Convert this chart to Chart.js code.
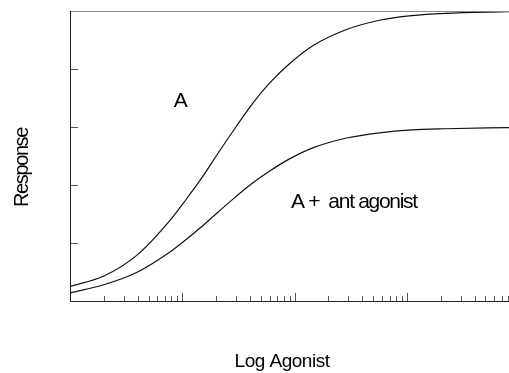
<!DOCTYPE html>
<html>
<head>
<meta charset="utf-8">
<script src="https://cdn.jsdelivr.net/npm/chart.js@4"></script>
<style>
  html, body { margin: 0; padding: 0; background: #fff; }
  canvas { display: block; }
</style>
</head>
<body>
<canvas id="chart" width="509" height="373"></canvas>
<script>
// agonist concentration (log axis, no labels in the original)
const doses = [1, 2, 4, 7.7, 10.8, 15, 21, 30, 42, 60, 90, 145, 290, 570, 1100, 2200, 8100];
// response, agonist alone
const agonist = [0.25, 0.43, 0.80, 1.38, 1.75, 2.13, 2.56, 3.00, 3.40, 3.76, 4.09, 4.40, 4.68, 4.84, 4.92, 4.96, 4.99];
// response, agonist + antagonist
const withAntagonist = [0.14, 0.28, 0.50, 0.84, 1.06, 1.29, 1.54, 1.80, 2.03, 2.24, 2.45, 2.64, 2.81, 2.90, 2.95, 2.97, 2.99];

const yTicks = [1, 2, 3, 4];
const xTitle = 'Log Agonist';
const yTitle = 'Response';
// curve labels, placed in data units
const curveLabels = [
  { text: 'A', x: 8.4, y: 3.35 },
  { text: 'A +  ant agonist', x: 93, y: 1.6 }
];

const FONT = '"Liberation Sans", Arial, sans-serif';

// axes drawn by hand so the ticks point inwards like the original
const frame = {
  id: 'frame',
  afterDraw(chart) {
    const ctx = chart.ctx;
    const a = chart.chartArea;
    const xs = chart.scales.x;
    const ys = chart.scales.y;
    ctx.save();

    // ticks on x (every 1..9 of each decade)
    ctx.strokeStyle = '#555';
    ctx.lineWidth = 1;
    ctx.beginPath();
    for (let dec = 1; dec <= xs.max; dec *= 10) {
      for (let m = 1; m <= 9; m++) {
        const v = dec * m;
        if (v <= xs.min || v > xs.max) continue;
        const px = Math.round(xs.getPixelForValue(v)) + 0.5;
        const len = m === 1 ? 8 : 5;
        ctx.moveTo(px, a.bottom);
        ctx.lineTo(px, a.bottom - len);
      }
    }
    // ticks on y
    yTicks.forEach(v => {
      const py = Math.round(ys.getPixelForValue(v)) + 0.5;
      ctx.moveTo(a.left, py);
      ctx.lineTo(a.left + 8, py);
    });
    ctx.stroke();

    // top line
    ctx.strokeStyle = '#888';
    ctx.beginPath();
    ctx.moveTo(a.left, a.top + 0.5);
    ctx.lineTo(a.right, a.top + 0.5);
    ctx.stroke();

    // axis lines
    ctx.strokeStyle = '#222';
    ctx.beginPath();
    ctx.moveTo(a.left + 0.5, a.top);
    ctx.lineTo(a.left + 0.5, a.bottom + 0.5);
    ctx.lineTo(a.right, a.bottom + 0.5);
    ctx.stroke();

    ctx.fillStyle = '#000';
    ctx.textBaseline = 'alphabetic';

    // curve labels
    ctx.font = '21px ' + FONT;
    ctx.letterSpacing = '-1.3px';
    ctx.textAlign = 'left';
    curveLabels.forEach(l => {
      ctx.fillText(l.text, xs.getPixelForValue(l.x), ys.getPixelForValue(l.y));
    });

    // axis titles
    ctx.font = '19px ' + FONT;
    ctx.letterSpacing = '-0.5px';
    ctx.textAlign = 'center';
    ctx.fillText(xTitle, 282, 367);

    ctx.font = '20px ' + FONT;
    ctx.letterSpacing = '-1.4px';
    ctx.translate(27.5, 167.5);
    ctx.rotate(-Math.PI / 2);
    ctx.fillText(yTitle, 0, 0);

    ctx.restore();
  }
};

new Chart(document.getElementById('chart'), {
  type: 'line',
  data: {
    datasets: [
      {
        label: 'A',
        data: doses.map((d, i) => ({ x: d, y: agonist[i] })),
        borderColor: '#111',
      },
      {
        label: 'A + antagonist',
        data: doses.map((d, i) => ({ x: d, y: withAntagonist[i] })),
        borderColor: '#111',
      },
    ],
  },
  options: {
    responsive: false,
    animation: false,
    events: [],
    layout: { padding: { left: 70, top: 11, right: 0, bottom: 72 } },
    elements: {
      point: { radius: 0 },
      line: { borderWidth: 1.2, cubicInterpolationMode: 'monotone', fill: false },
    },
    scales: {
      x: { type: 'logarithmic', display: false, min: 1, max: 8100 },
      y: { type: 'linear', display: false, min: 0, max: 5 },
    },
    plugins: {
      legend: { display: false },
      tooltip: { enabled: false },
    },
  },
  plugins: [frame],
});
</script>
</body>
</html>
